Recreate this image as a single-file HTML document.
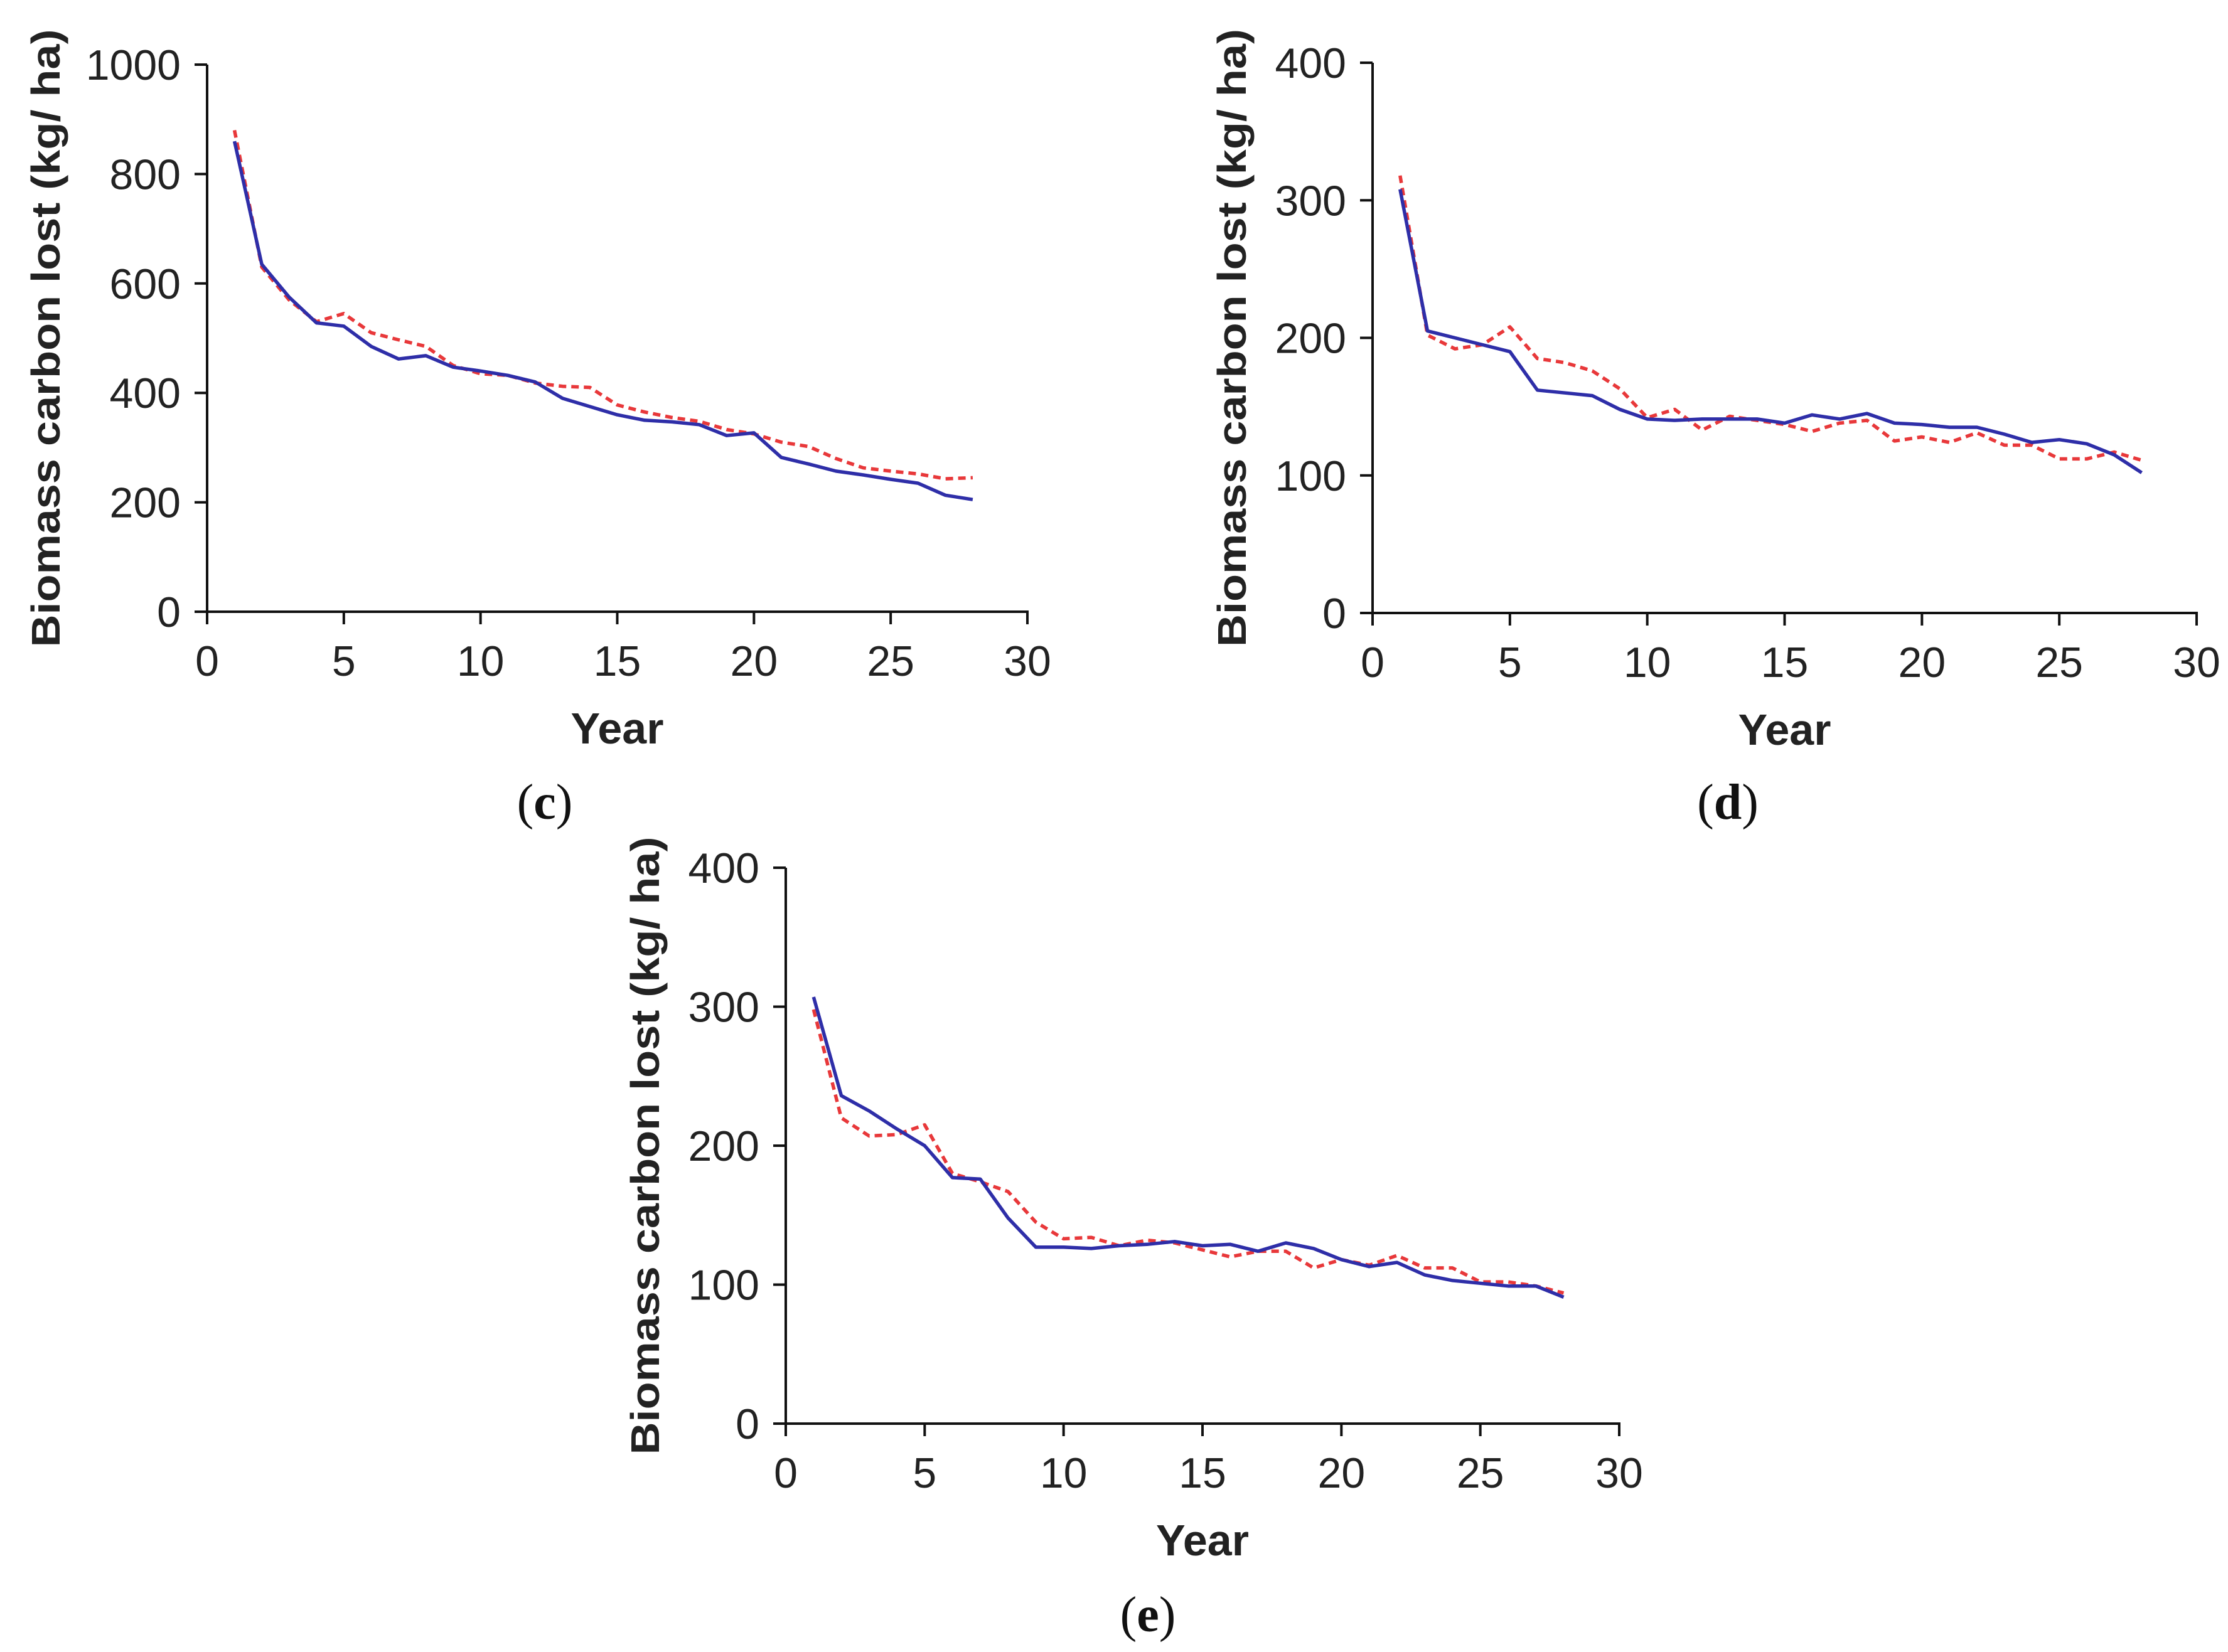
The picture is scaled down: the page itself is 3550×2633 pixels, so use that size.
<!DOCTYPE html>
<html>
<head>
<meta charset="utf-8">
<style>
html,body{margin:0;padding:0;background:#fff;}
svg{display:block;}
</style>
</head>
<body>
<svg id="fig" width="3550" height="2633" viewBox="0 0 3550 2633" xmlns="http://www.w3.org/2000/svg"></svg>
<script>
// ---- data ----
const years = [1,2,3,4,5,6,7,8,9,10,11,12,13,14,15,16,17,18,19,20,21,22,23,24,25,26,27,28];
const xTicks = [0,5,10,15,20,25,30];

const cBlue = [860,635,575,528,522,485,462,468,447,440,432,420,390,375,360,350,347,342,322,327,282,270,257,250,242,235,213,205];
const cRed  = [880,630,570,530,545,510,497,485,450,435,432,418,412,410,378,365,355,348,333,325,310,302,280,263,257,252,243,245];
const cYTicks = [0,200,400,600,800,1000];

const dBlue = [308,205,200,195,190,162,160,158,148,141,140,141,141,141,138,144,141,145,138,137,135,135,130,124,126,123,115,102];
const dRed  = [318,202,192,195,208,185,182,176,163,142,148,133,143,140,137,132,138,140,125,128,124,131,122,122,112,112,117,111];
const dYTicks = [0,100,200,300,400];

const eBlue = [307,236,225,212,200,177,176,148,127,127,126,128,129,131,128,129,124,130,126,118,113,116,107,103,101,99,99,91];
const eRed  = [298,220,207,208,215,180,174,167,145,133,134,128,132,130,125,120,124,124,112,118,114,121,112,112,102,102,99,94];
const eYTicks = [0,100,200,300,400];

const NS = "http://www.w3.org/2000/svg";
const svg = document.getElementById('fig');
function mk(tag, attrs, parent){
  const el = document.createElementNS(NS, tag);
  for (const k in attrs) el.setAttribute(k, attrs[k]);
  (parent||svg).appendChild(el);
  return el;
}

function panel(id, box, yMax, yTicks, blue, red, caption, capPos){
  const g = mk('g', {});
  
  
  const xS = v => box.x0 + (v/30)*(box.x1-box.x0);
  const yS = v => box.y0 - (v/yMax)*(box.y0-box.y1);

  const ya = mk('line', {x1:xS(0), y1:yS(0)+2, x2:xS(0), y2:yS(yMax), stroke:'#111', 'stroke-width':4}, g);
  
  
  const xa = mk('line', {x1:xS(0)-2, y1:yS(0), x2:xS(30)+2, y2:yS(0), stroke:'#111', 'stroke-width':4}, g);
  
  

  xTicks.forEach(t => {
    const tk = mk('line', {x1:xS(t), y1:yS(0), x2:xS(t), y2:yS(0)+20, stroke:'#111', 'stroke-width':4}, g);
    
    
    const tl = mk('text', {x:xS(t), y:yS(0)+102, 'text-anchor':'middle', 'font-family':'Liberation Sans, sans-serif', 'font-size':68, fill:'#222'}, g);
    tl.textContent = t;
    
    
  });
  yTicks.forEach(t => {
    const tk = mk('line', {x1:xS(0)-20, y1:yS(t), x2:xS(0), y2:yS(t), stroke:'#111', 'stroke-width':4}, g);
    
    
    const tl = mk('text', {x:xS(0)-42, y:yS(t)+24, 'text-anchor':'end', 'font-family':'Liberation Sans, sans-serif', 'font-size':68, fill:'#222'}, g);
    tl.textContent = t;
    
    
  });

  const xt = mk('text', {x:(xS(0)+xS(30))/2, y:yS(0)+210, 'text-anchor':'middle', 'font-family':'Liberation Sans, sans-serif', 'font-weight':'bold', 'font-size':70, fill:'#222'}, g);
  xt.textContent = 'Year';
  
  
  const tx = box.titleX, ty = (box.y0 + box.y1)/2;
  const yt = mk('text', {x:tx, y:ty, 'text-anchor':'middle', 'font-family':'Liberation Sans, sans-serif', 'font-weight':'bold', 'font-size':64, fill:'#222', transform:'rotate(-90 '+tx+' '+ty+')', textLength:985, lengthAdjust:'spacingAndGlyphs'}, g);
  yt.textContent = 'Biomass carbon lost (kg/ ha)';
  
  

  const pts = arr => arr.map((v,i) => xS(years[i]).toFixed(1)+','+yS(v).toFixed(1)).join(' ');
  const rl = mk('polyline', {points:pts(red), fill:'none', stroke:'#e8383a', 'stroke-width':5.5, 'stroke-dasharray':'12 8', 'stroke-linejoin':'round'}, g);
  
  
  const bl = mk('polyline', {points:pts(blue), fill:'none', stroke:'#2e2ea8', 'stroke-width':5.5, 'stroke-linejoin':'round'}, g);
  
  

  const cap = mk('text', {x:capPos[0], y:capPos[1], 'text-anchor':'middle', 'font-family':'Liberation Serif, serif', 'font-size':80, fill:'#111'}, g);
  
  
  const t1 = mk('tspan', {}, cap); t1.textContent = '(';
  const t2 = mk('tspan', {'font-weight':'bold'}, cap); t2.textContent = caption;
  const t3 = mk('tspan', {}, cap); t3.textContent = ')';
}

panel('c', {x0:330, x1:1637, y0:975, y1:103, titleX:95}, 1000, cYTicks, cBlue, cRed, 'c', [868, 1305]);
panel('d', {x0:2187, x1:3500, y0:977, y1:100, titleX:1985}, 400, dYTicks, dBlue, dRed, 'd', [2753, 1305]);
panel('e', {x0:1252, x1:2580, y0:2269, y1:1383, titleX:1050}, 400, eYTicks, eBlue, eRed, 'e', [1829, 2600]);
</script>
</body>
</html>
